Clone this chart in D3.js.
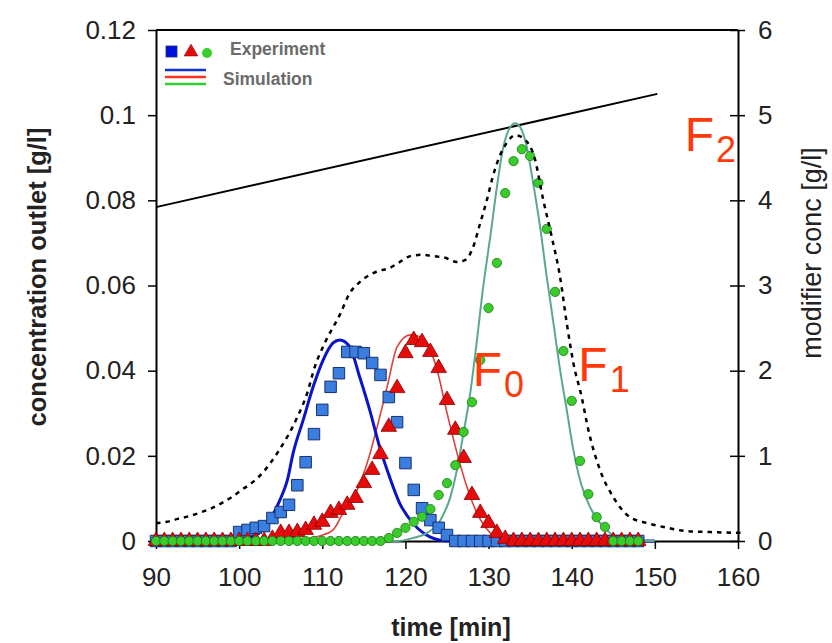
<!DOCTYPE html>
<html>
<head>
<meta charset="utf-8">
<script src="https://cdn.jsdelivr.net/npm/d3@7/dist/d3.min.js"></script>
<style>
  html, body { margin: 0; padding: 0; background: #fff; }
  svg { display: block; font-family: "Liberation Sans", Arial, sans-serif; }
</style>
</head>
<body>
<svg id="chart" width="832" height="643"></svg>
<script>
// ---------------- DATA ----------------
const xTickValues = [90, 100, 110, 120, 130, 140, 150, 160];
const xTickLabels = ["90", "100", "110", "120", "130", "140", "150", "160"];
const yLeftTickValues = [0, 0.02, 0.04, 0.06, 0.08, 0.1, 0.12];
const yLeftTickLabels = ["0", "0.02", "0.04", "0.06", "0.08", "0.1", "0.12"];
const yRightTickValues = [0, 1, 2, 3, 4, 5, 6];
const yRightTickLabels = ["0", "1", "2", "3", "4", "5", "6"];

// experiment sampling times [min]
const expTime = [90,91,92,93,94,95,96,97,98,99,100,101,102,103,104,105,106,107,108,109,
  110,111,112,113,114,115,116,117,118,119,120,121,122,123,124,125,126,127,128,129,
  130,131,132,133,134,135,136,137,138,139,140,141,142,143,144,145,146,147,148];

// experiment, blue squares
const expBlue = [0,0,0,0,0,0,0,0,0,0,
  0.0021,0.0026,0.0031,0.0035,0.0054,0.0068,0.0085,0.0131,0.0185,0.0251,
  0.0308,0.0362,0.0394,0.0444,0.0444,0.0441,0.0418,0.0390,0.0338,0.0279,
  0.0183,0.0120,0.0077,0.0049,0.0031,0.0014,
  0,0,0,0,0,0,0,0,0,0,0,0,0,0,0,0,0,0,0,0,0,0,0];

// experiment, red triangles
const expRed = [0,0,0,0,0,0,0,0,0,0,0,0,0,0,
  0.0005,0.0019,0.0019,0.0021,0.0026,0.0038,0.0045,0.0066,0.0073,0.0085,
  0.0101,0.0136,0.0167,0.0204,0.0268,0.0359,0.0441,0.0472,0.0467,0.0444,
  0.0406,0.0331,0.0261,0.0195,0.0108,0.0066,0.0042,0.0019,0.0005,
  0,0,0,0,0,0,0,0,0,0,0,0,0,0,0,0];

// experiment, green circles
const expGreen = [0,0,0,0,0,0,0,0,0,0,0,0,0,0,0,0,0,0,0,0,0,0,0,0,0,0,0,0,
  0.0007,0.0019,0.0031,0.0045,0.0057,0.0075,0.0108,0.0136,0.0178,0.0256,
  0.0326,0.0425,0.0547,0.0653,0.0817,0.0892,0.0920,0.0904,0.0841,0.0733,
  0.0585,0.0446,0.0329,0.0188,0.0110,0.0056,0.0033,
  0,0,0,0];

// simulation, blue
const simBlueTime = [90,100,101.3,102.5,103.7,104.9,105.8,106.5,107.7,108.9,110.1,111.3,112.1,113.3,114.5,115.7,116.9,118.1,119.3,120.9,123.0,124.2,126,150];
const simBlue = [0,0,0.0007,0.002,0.005,0.0096,0.0143,0.0207,0.0284,0.0362,0.0425,0.0465,0.0472,0.0456,0.0385,0.0308,0.0221,0.0150,0.0089,0.0042,0.0009,0.0002,0,0];

// simulation, red
const simRedTime = [90,105,107.5,109.7,111.3,112.5,114.2,115.4,116.6,117.8,119.0,120.6,121.8,122.6,123.8,125.0,126.2,127.4,128.6,130.2,131.7,133,150];
const simRed = [0,0,0.0004,0.0012,0.0026,0.0066,0.0120,0.0183,0.0268,0.0362,0.0456,0.0484,0.0479,0.0465,0.0402,0.0301,0.0207,0.0127,0.0066,0.0019,0.0002,0,0];

// simulation, green
const simGreenTime = [90,119,120.9,122.6,124.2,125.4,126.2,126.9,127.8,128.6,129.3,130.2,131.0,131.7,132.6,133.2,133.8,134.6,135.3,136.2,137.0,137.8,138.6,139.4,140.2,141.0,142.2,143.8,145.4,147,150];
const simGreen = [0,0,0.0007,0.0019,0.0049,0.0103,0.0167,0.0244,0.0348,0.0472,0.0589,0.0714,0.0831,0.0918,0.0972,0.0981,0.0972,0.0925,0.0848,0.0737,0.0620,0.0512,0.0402,0.0308,0.0214,0.0143,0.0080,0.0033,0.0009,0,0];

// total (dotted)
const totalTime = [90,91.3,92.6,94.1,95.5,96.7,97.9,99.1,100.3,101.5,102.9,104.6,107.0,108.2,109.1,110.3,112.1,113.3,114.5,116.7,118.1,119.3,120.6,122.0,123.3,124.8,126.2,127.2,128.1,129.0,129.8,130.5,131.3,132.2,133.2,134.4,135.6,136.5,137.6,138.6,139.4,140.2,141.2,142.0,143.4,145.0,147.0,149.1,151.5,153.9,156.6,160.5];
const totalConc = [0.0042,0.0045,0.0052,0.0059,0.0068,0.0077,0.0089,0.0103,0.0120,0.0136,0.0162,0.0207,0.0291,0.0348,0.0409,0.0465,0.0531,0.0582,0.0608,0.0634,0.0641,0.0655,0.0669,0.0672,0.0669,0.0665,0.0655,0.0660,0.0688,0.0747,0.0801,0.0855,0.0902,0.0935,0.0953,0.0942,0.0895,0.0808,0.0714,0.0620,0.0512,0.0418,0.0338,0.0261,0.0167,0.0103,0.0056,0.0042,0.0031,0.0023,0.0021,0.0019];

// modifier concentration (right axis)
const modTime = [90, 150.3];
const modConc = [3.92, 5.25];

const legendLabels = ["Experiment", "Simulation"];
const peakLabels = [
  {main: "F", sub: "0", t: 128.1, c: 0.0365},
  {main: "F", sub: "1", t: 140.8, c: 0.0375},
  {main: "F", sub: "2", t: 153.6, c: 0.0915}
];

// ---------------- CHART ----------------
const svg = d3.select("#chart");
svg.append("rect").attr("width", 832).attr("height", 643).attr("fill", "#fff");

const x = d3.scaleLinear().domain([90, 160]).range([156, 738]);
const yL = d3.scaleLinear().domain([0, 0.12]).range([541, 30]);
const yR = d3.scaleLinear().domain([0, 6]).range([541, 30]);

const tickFont = 26;
const tickColor = "#222";

// frame top line
svg.append("line").attr("x1", x(90)).attr("x2", x(160)).attr("y1", yL(0.12)).attr("y2", yL(0.12))
  .attr("stroke", "#000").attr("stroke-width", 2);

// left axis
const gL = svg.append("g").attr("transform", `translate(${x(90)},0)`)
  .call(d3.axisLeft(yL).tickValues(yLeftTickValues).tickFormat((d, i) => yLeftTickLabels[i]).tickSize(8).tickPadding(12).tickSizeOuter(0));
// right axis
const gR = svg.append("g").attr("transform", `translate(${x(160)},0)`)
  .call(d3.axisRight(yR).tickValues(yRightTickValues).tickFormat((d, i) => yRightTickLabels[i]).tickSize(7).tickPadding(13).tickSizeOuter(0));
gR.selectAll(".tick line").attr("x1", -8);
// bottom axis
const gB = svg.append("g").attr("transform", `translate(0,${yL(0)})`)
  .call(d3.axisBottom(x).tickValues(xTickValues).tickFormat((d, i) => xTickLabels[i]).tickSize(8).tickPadding(19).tickSizeOuter(0));

[gL, gR, gB].forEach(g => {
  g.select(".domain").attr("stroke", "#000").attr("stroke-width", 2);
  g.selectAll(".tick line").attr("stroke", "#000").attr("stroke-width", 1.5);
  g.selectAll(".tick text").attr("font-size", tickFont).attr("fill", tickColor)
    .attr("font-family", "'Liberation Sans', Arial, sans-serif");
});

// axis titles
svg.append("text").attr("transform", "translate(46,277) rotate(-90)")
  .attr("text-anchor", "middle").attr("font-size", 25.5).attr("font-weight", "bold").attr("fill", "#222")
  .text("concentration outlet [g/l]");
svg.append("text").attr("x", 451).attr("y", 636)
  .attr("text-anchor", "middle").attr("font-size", 25).attr("font-weight", "bold").attr("fill", "#222")
  .text("time [min]");
svg.append("text").attr("transform", "translate(821,253) rotate(-90)")
  .attr("text-anchor", "middle").attr("font-size", 27).attr("fill", "#222")
  .text("modifier conc [g/l]");

// modifier line
const modLine = d3.line().x((d, i) => x(modTime[i])).y(d => yR(d));
svg.append("path").attr("d", modLine(modConc)).attr("fill", "none").attr("stroke", "#000").attr("stroke-width", 2);

// simulation lines
function simPath(times, vals, color, width) {
  const ln = d3.line().x((d, i) => x(times[i])).y(d => yL(d)).curve(d3.curveMonotoneX);
  svg.append("path").attr("d", ln(vals)).attr("fill", "none").attr("stroke", color)
    .attr("stroke-width", width).attr("stroke-linejoin", "round");
}
simPath(simRedTime, simRed, "#e0403a", 1.6);
simPath(simBlueTime, simBlue, "#0a14c8", 3);
simPath(simGreenTime, simGreen, "#5aa890", 2);

// experiment markers
const sq = d3.symbol().type(d3.symbolSquare).size(132);
const tri = d3.symbol().type(d3.symbolTriangle).size(105);
const circ = d3.symbol().type(d3.symbolCircle).size(68);

svg.append("g").selectAll("path").data(expBlue).join("path")
  .attr("d", sq).attr("transform", (d, i) => `translate(${x(expTime[i])},${yL(d)})`)
  .attr("fill", "#3a7fe0").attr("stroke", "#1a3070").attr("stroke-width", 1);
svg.append("g").selectAll("path").data(expRed).join("path")
  .attr("d", tri).attr("transform", (d, i) => `translate(${x(expTime[i])},${yL(d)})`)
  .attr("fill", "#e50b0b").attr("stroke", "#8a0000").attr("stroke-width", 0.8);
svg.append("g").selectAll("path").data(expGreen).join("path")
  .attr("d", circ).attr("transform", (d, i) => `translate(${x(expTime[i])},${yL(d)})`)
  .attr("fill", "#3acc2a").attr("stroke", "#1d7a1d").attr("stroke-width", 0.8);

// total dotted line
const totLine = d3.line().x((d, i) => x(totalTime[i])).y(d => yL(d)).curve(d3.curveMonotoneX);
svg.append("path").attr("d", totLine(totalConc)).attr("fill", "none").attr("stroke", "#000")
  .attr("stroke-width", 2.5).attr("stroke-dasharray", "4.5,5");

// legend
const lg = svg.append("g");
lg.append("rect").attr("x", 166).attr("y", 46).attr("width", 11).attr("height", 11)
  .attr("fill", "#0010e0").attr("stroke", "#1a3070").attr("stroke-width", 0.8);
lg.append("path").attr("d", d3.symbol().type(d3.symbolTriangle).size(80)).attr("transform", "translate(191,52)")
  .attr("fill", "#e50b0b").attr("stroke", "#8a0000").attr("stroke-width", 0.6);
lg.append("circle").attr("cx", 207).attr("cy", 53).attr("r", 5).attr("fill", "#3acc2a");
lg.append("text").attr("x", 230).attr("y", 55).attr("font-size", 17.5).attr("font-weight", "bold")
  .attr("fill", "#6b6b6b").text(legendLabels[0]);
[["#1030d0", 70], ["#ff3020", 77], ["#33cc33", 84]].forEach(([c, yy]) => {
  lg.append("line").attr("x1", 165).attr("x2", 206).attr("y1", yy).attr("y2", yy)
    .attr("stroke", c).attr("stroke-width", 2.5);
});
lg.append("text").attr("x", 223).attr("y", 85).attr("font-size", 17.5).attr("font-weight", "bold")
  .attr("fill", "#6b6b6b").text(legendLabels[1]);

// F labels
peakLabels.forEach(p => {
  const t = svg.append("text").attr("x", x(p.t)).attr("y", yL(p.c)).attr("fill", "#ff3a0a")
    .attr("font-family", "'Liberation Sans', Arial, sans-serif");
  t.append("tspan").attr("font-size", 48).text(p.main);
  t.append("tspan").attr("font-size", 36).attr("dy", 11).attr("dx", 2).text(p.sub);
});
</script>
</body>
</html>
